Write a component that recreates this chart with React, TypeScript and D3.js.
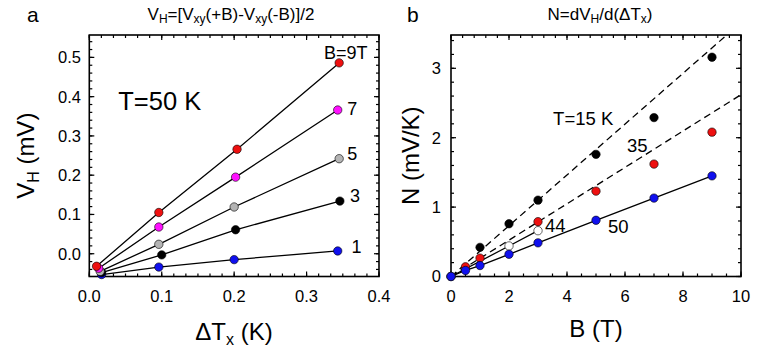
import React from "react";
import * as d3 from "d3";

// ---------- Panel a data: V_H vs ΔT_x at T = 50 K ----------
const seriesA = ["1", "3", "5", "7", "9T"];
const colorsA = ["#1010ee", "#000000", "#b4b4b4", "#ff10ff", "#ee1010"];
const dTx1 = [0.017, 0.096, 0.2, 0.343];
const vh1 = [-0.053, -0.034, -0.015, 0.007];
const dTx3 = [0.017, 0.1, 0.202, 0.346];
const vh3 = [-0.048, -0.003, 0.061, 0.134];
const dTx5 = [0.015, 0.096, 0.2, 0.345];
const vh5 = [-0.045, 0.024, 0.119, 0.242];
const dTx7 = [0.013, 0.096, 0.202, 0.343];
const vh7 = [-0.037, 0.068, 0.195, 0.366];
const dTx9 = [0.01, 0.096, 0.204, 0.345];
const vh9 = [-0.032, 0.105, 0.266, 0.486];
const xTicksA = [0, 0.1, 0.2, 0.3, 0.4];
const yTicksA = [0, 0.1, 0.2, 0.3, 0.4, 0.5];

// ---------- Panel b data: N vs B ----------
const bField15 = [0, 1, 2, 3, 5, 7, 9];
const n15 = [0, 0.42, 0.76, 1.1, 1.76, 2.29, 3.16];
const bField35 = [0.5, 1, 3, 5, 7, 9];
const n35 = [0.14, 0.265, 0.79, 1.23, 1.62, 2.08];
const bField44 = [0, 2, 3];
const n44 = [0, 0.44, 0.66];
const bField50 = [0, 0.5, 1, 2, 3, 5, 7, 9];
const n50 = [0, 0.087, 0.158, 0.32, 0.485, 0.81, 1.13, 1.45];
const slope15 = 0.366;
const slope35 = 0.262;
const xTicksB = [0, 2, 4, 6, 8, 10];
const yTicksB = [0, 1, 2, 3];

const FONT = "'Liberation Sans', Arial, Helvetica, sans-serif";

function range(a: number, b: number, step: number) {
  const out: number[] = [];
  for (let v = a; v <= b + 1e-9; v += step) out.push(+v.toFixed(6));
  return out;
}

function Frame({ x, y, xMinor, xMinorTop, xMajor, yMinor, yMajor }: any) {
  const [x0, x1] = x.range();
  const [y0, y1] = y.range();
  const els: any[] = [];
  const MJ = 5, MN = 3;
  xMajor.forEach((v: number, i: number) => {
    const px = x(v);
    els.push(<line key={"xb" + i} x1={px} x2={px} y1={y0} y2={y0 - MJ} />);
    els.push(<line key={"xt" + i} x1={px} x2={px} y1={y1} y2={y1 + MJ} />);
  });
  xMinor.forEach((v: number, i: number) => {
    const px = x(v);
    els.push(<line key={"xbm" + i} x1={px} x2={px} y1={y0} y2={y0 - MN} />);
  });
  xMinorTop.forEach((v: number, i: number) => {
    const px = x(v);
    els.push(<line key={"xtm" + i} x1={px} x2={px} y1={y1} y2={y1 + MN} />);
  });
  yMajor.forEach((v: number, i: number) => {
    const py = y(v);
    els.push(<line key={"yl" + i} x1={x0} x2={x0 + MJ} y1={py} y2={py} />);
    els.push(<line key={"yr" + i} x1={x1} x2={x1 - MJ} y1={py} y2={py} />);
  });
  yMinor.forEach((v: number, i: number) => {
    const py = y(v);
    els.push(<line key={"ylm" + i} x1={x0} x2={x0 + MN} y1={py} y2={py} />);
    els.push(<line key={"yrm" + i} x1={x1} x2={x1 - MN} y1={py} y2={py} />);
  });
  return (
    <g stroke="#000" strokeWidth={1.2}>
      {els}
      <rect x={x0} y={y1} width={x1 - x0} height={y0 - y1} fill="none" strokeWidth={1.6} />
    </g>
  );
}

export default function App() {
  // Panel a scales
  const xA = d3.scaleLinear().domain([0, 0.4]).range([89.3, 379]);
  const yA = d3.scaleLinear().domain([-0.058, 0.557]).range([276.5, 35]);
  // Panel b scales
  const xB = d3.scaleLinear().domain([0, 10]).range([451, 741]);
  const yB = d3.scaleLinear().domain([0, 3.48]).range([276.5, 35]);

  const dataA = [
    [dTx1, vh1],
    [dTx3, vh3],
    [dTx5, vh5],
    [dTx7, vh7],
    [dTx9, vh9],
  ];
  const lineA = d3
    .line<[number, number]>()
    .x((d) => xA(d[0]))
    .y((d) => yA(d[1]));
  const lineB = d3
    .line<[number, number]>()
    .x((d) => xB(d[0]))
    .y((d) => yB(d[1]));

  const zip = (a: number[], b: number[]) => a.map((v, i) => [v, b[i]] as [number, number]);

  const labelsA = [
    { t: "1", x: 0.362, y: 0.001 },
    { t: "3", x: 0.36, y: 0.131 },
    { t: "5", x: 0.356, y: 0.238 },
    { t: "7", x: 0.356, y: 0.353 },
    { t: "B=9T", x: 0.324, y: 0.496 },
  ];

  const seriesB = [
    { bx: bField15, ny: n15, fill: "#000", solid: false },
    { bx: bField35, ny: n35, fill: "#ee1010", solid: false },
    { bx: bField44, ny: n44, fill: "#fff", solid: true },
    { bx: bField50, ny: n50, fill: "#1010ee", solid: true },
  ];

  const xMinorA = range(0, 0.4, 0.1 / 6);
  const yMinorA = range(-0.04, 0.54, 0.02);
  const xMinorB = range(0, 10, 0.5);
  const xMinorTopB = range(0, 10, 0.4);
  const yMinorB = range(0, 3.4, 0.2);

  return (
    <svg
      width={761}
      height={358}
      style={{ position: "absolute", left: 0, top: 0, background: "#fff" }}
      fontFamily={FONT}
    >
      <defs>
        <clipPath id="clipB">
          <rect x={451} y={35} width={290} height={241.5} />
        </clipPath>
      </defs>
      <rect width={761} height={358} fill="#fff" />

      {/* ---------------- Panel a ---------------- */}
      <text x={27} y={22} fontSize={21}>a</text>
      <text x={231} y={20} fontSize={17} textAnchor="middle">
        V<tspan fontSize={12} dy={3}>H</tspan>
        <tspan dy={-3}>=[V</tspan>
        <tspan fontSize={12} dy={3}>xy</tspan>
        <tspan dy={-3}>(+B)-V</tspan>
        <tspan fontSize={12} dy={3}>xy</tspan>
        <tspan dy={-3}>(-B)]/2</tspan>
      </text>

      <Frame
        x={xA}
        y={yA}
        xMajor={xTicksA}
        xMinor={xMinorA}
        xMinorTop={xMinorA}
        yMajor={yTicksA}
        yMinor={yMinorA}
      />

      {xTicksA.map((v) => (
        <text key={"xla" + v} x={xA(v)} y={302} fontSize={16.5} textAnchor="middle">
          {v.toFixed(1)}
        </text>
      ))}
      {yTicksA.map((v) => (
        <text key={"yla" + v} x={81} y={yA(v)} dy="0.36em" fontSize={16.5} textAnchor="end">
          {v.toFixed(1)}
        </text>
      ))}

      <text
        transform={`translate(34,${(35 + 276.5) / 2}) rotate(-90)`}
        fontSize={24}
        textAnchor="middle"
      >
        V<tspan fontSize={16} dy={5}>H</tspan>
        <tspan dy={-5}> (mV)</tspan>
      </text>
      <text x={234} y={340} fontSize={24} textAnchor="middle">
        ΔT<tspan fontSize={16} dy={5}>x</tspan>
        <tspan dy={-5}> (K)</tspan>
      </text>

      <g fill="none" stroke="#000" strokeWidth={1.3}>
        {dataA.map((d, i) => (
          <path key={"la" + i} d={lineA(zip(d[0], d[1])) || ""} />
        ))}
      </g>
      {dataA.map((d, i) =>
        d[0].map((xv, j) => (
          <circle
            key={"pa" + i + "-" + j}
            cx={xA(xv)}
            cy={yA(d[1][j])}
            r={4.2}
            fill={colorsA[i]}
            stroke="#000"
            strokeWidth={0.6}
          />
        ))
      )}
      {labelsA.map((l) => (
        <text key={"lba" + l.t} x={xA(l.x)} y={yA(l.y)} fontSize={18}>
          {l.t}
        </text>
      ))}
      <text x={xA(0.04)} y={yA(0.366)} fontSize={25.5}>T=50 K</text>

      {/* ---------------- Panel b ---------------- */}
      <text x={407} y={22} fontSize={21}>b</text>
      <text x={600} y={20} fontSize={17} textAnchor="middle">
        N=dV<tspan fontSize={12} dy={3}>H</tspan>
        <tspan dy={-3}>/d(ΔT</tspan>
        <tspan fontSize={12} dy={3}>x</tspan>
        <tspan dy={-3}>)</tspan>
      </text>

      <Frame
        x={xB}
        y={yB}
        xMajor={xTicksB}
        xMinor={xMinorB}
        xMinorTop={xMinorTopB}
        yMajor={yTicksB}
        yMinor={yMinorB}
      />
      {xTicksB.map((v) => (
        <text key={"xlb" + v} x={xB(v)} y={302} fontSize={16.5} textAnchor="middle">
          {v}
        </text>
      ))}
      {yTicksB.map((v) => (
        <text key={"ylb" + v} x={441} y={yB(v)} dy="0.36em" fontSize={16.5} textAnchor="end">
          {v}
        </text>
      ))}
      <text
        transform={`translate(419,${(35 + 276.5) / 2}) rotate(-90)`}
        fontSize={24}
        textAnchor="middle"
      >
        N (mV/K)
      </text>
      <text x={596} y={337} fontSize={24} textAnchor="middle">
        B (T)
      </text>

      <g clipPath="url(#clipB)" fill="none" stroke="#000" strokeWidth={1.3} strokeDasharray="7,4.5">
        <path d={lineB([[0, 0], [10, 10 * slope15]]) || ""} />
        <path d={lineB([[0, 0], [10, 10 * slope35]]) || ""} />
      </g>
      <g fill="none" stroke="#000" strokeWidth={1.3}>
        {seriesB
          .filter((s) => s.solid)
          .map((s, i) => (
            <path key={"lb" + i} d={lineB(zip(s.bx, s.ny)) || ""} />
          ))}
      </g>
      {seriesB.map((s, i) =>
        s.bx.map((bv, j) => (
          <circle
            key={"pb" + i + "-" + j}
            cx={xB(bv)}
            cy={yB(s.ny[j])}
            r={4.2}
            fill={s.fill}
            stroke="#000"
            strokeWidth={0.6}
          />
        ))
      )}
      <text x={xB(3.52)} y={yB(2.18)} fontSize={18.5}>T=15 K</text>
      <text x={xB(6.07)} y={yB(1.79)} fontSize={18.5}>35</text>
      <text x={xB(3.24)} y={yB(0.64)} fontSize={18.5}>44</text>
      <text x={xB(5.41)} y={yB(0.63)} fontSize={18.5}>50</text>
    </svg>
  );
}
